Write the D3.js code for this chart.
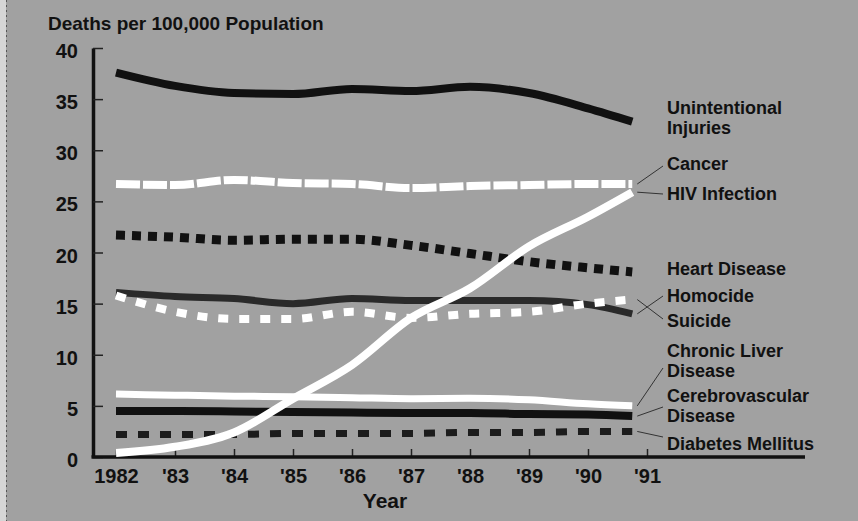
<!DOCTYPE html>
<html>
<head>
<meta charset="utf-8">
<script src="https://cdn.jsdelivr.net/npm/d3@7"></script>
<style>
  body { margin: 0; background: #a1a1a1; }
  svg { display: block; font-family: "Liberation Sans", Arial, sans-serif; font-weight: bold; }
</style>
</head>
<body>
<div id="chart"></div>
<script>
// Step 1: data (deaths per 100,000 population)
var years = [1982, 1983, 1984, 1985, 1986, 1987, 1988, 1989, 1990, 1990.75];
var tickYears = [1982, 1983, 1984, 1985, 1986, 1987, 1988, 1989, 1990, 1991];
var tickLabels = ["1982", "'83", "'84", "'85", "'86", "'87", "'88", "'89", "'90", "'91"];
var yTicks = [0, 5, 10, 15, 20, 25, 30, 35, 40];

var unintentional = [37.6, 36.3, 35.6, 35.5, 36.0, 35.8, 36.2, 35.6, 34.1, 32.8];
var cancer        = [26.7, 26.6, 27.1, 26.8, 26.7, 26.3, 26.5, 26.6, 26.7, 26.7];
var hiv           = [0.4, 1.0, 2.4, 5.7, 9.0, 13.6, 16.5, 20.6, 23.5, 25.9];
var heart         = [21.7, 21.5, 21.2, 21.3, 21.3, 20.7, 19.9, 19.1, 18.5, 18.1];
var homicide      = [16.1, 15.7, 15.5, 15.0, 15.5, 15.3, 15.3, 15.3, 14.9, 14.0];
var suicide       = [15.8, 14.2, 13.5, 13.5, 14.2, 13.6, 14.0, 14.2, 15.0, 15.4];
var liver         = [6.15, 6.05, 5.95, 5.9, 5.8, 5.7, 5.75, 5.6, 5.2, 5.0];
var cerebro       = [4.5, 4.5, 4.45, 4.4, 4.35, 4.3, 4.3, 4.2, 4.15, 4.0];
var diabetes      = [2.2, 2.2, 2.2, 2.3, 2.3, 2.3, 2.4, 2.4, 2.5, 2.5];

// Step 2: set up the svg area
var svgWidth = 858;
var svgHeight = 521;
var axisX = 93;     // the y axis sits left of the first year
var axisEnd = 805;  // the x axis runs on past '91

var svg = d3.select("#chart").append("svg")
  .attr("width", svgWidth)
  .attr("height", svgHeight);

svg.append("rect")
  .attr("width", svgWidth)
  .attr("height", svgHeight)
  .attr("fill", "#a1a1a1");

// light strip on the left edge of the scan
svg.append("rect")
  .attr("width", 6)
  .attr("height", svgHeight)
  .attr("fill", "#d6d6d6");
svg.append("line")
  .attr("x1", 6.5).attr("x2", 6.5)
  .attr("y1", 0).attr("y2", svgHeight)
  .attr("stroke", "#555")
  .attr("stroke-dasharray", "2,3");

// Step 3: scales
var xScale = d3.scaleLinear().domain([1982, 1991]).range([116, 647]);
var yScale = d3.scaleLinear().domain([0, 40]).range([457, 48]);

// Step 4: axes
var yAxis = d3.axisLeft(yScale)
  .tickValues(yTicks)
  .tickSizeInner(-10)
  .tickSizeOuter(0)
  .tickPadding(15);

var yG = svg.append("g")
  .attr("transform", `translate(${axisX}, 0)`)
  .call(yAxis)
  .attr("font-size", null)
  .attr("font-family", null);
yG.select(".domain").attr("stroke", "#111").attr("stroke-width", 3.5);
yG.selectAll(".tick line").attr("stroke", "#222").attr("stroke-width", 1.5);
yG.selectAll(".tick text")
  .attr("fill", "#111")
  .attr("font-size", "20px")
  .attr("dy", "0.48em");

var xAxis = d3.axisBottom(xScale)
  .tickValues(tickYears)
  .tickFormat(function(d, i) { return tickLabels[i]; })
  .tickSizeInner(-8)
  .tickSizeOuter(0)
  .tickPadding(12);

var xG = svg.append("g")
  .attr("transform", `translate(0, ${yScale(0)})`)
  .call(xAxis)
  .attr("font-size", null)
  .attr("font-family", null);
xG.select(".domain").remove();
xG.selectAll(".tick line").attr("stroke", "#222").attr("stroke-width", 1.5);
xG.selectAll(".tick text")
  .attr("fill", "#111")
  .attr("font-size", "20px");

svg.append("line")
  .attr("x1", axisX - 1.5)
  .attr("x2", axisEnd)
  .attr("y1", yScale(0))
  .attr("y2", yScale(0))
  .attr("stroke", "#111")
  .attr("stroke-width", 3.5);

// axis titles
svg.append("text")
  .attr("x", 48)
  .attr("y", 30)
  .attr("font-size", "19px")
  .attr("fill", "#111")
  .text("Deaths per 100,000 Population");

svg.append("text")
  .attr("x", 385)
  .attr("y", 508)
  .attr("text-anchor", "middle")
  .attr("font-size", "21px")
  .attr("fill", "#111")
  .text("Year");

// Step 5: the lines, in drawing order
var series = [
  { values: unintentional, color: "#111", width: 8, dash: null,
    label: ["Unintentional", "Injuries"], labelY: 114, leaderY: null },
  { values: cancer, color: "#fff", width: 8, dash: "24,3",
    label: ["Cancer"], labelY: 170, leaderY: 166 },
  { values: heart, color: "#111", width: 9, dash: "9,7",
    label: ["Heart Disease"], labelY: 275, leaderY: null },
  { values: homicide, color: "#2a2a2a", width: 7, dash: null,
    label: ["Homocide"], labelY: 302, leaderY: 296 },
  { values: suicide, color: "#fff", width: 8, dash: "10,11",
    label: ["Suicide"], labelY: 327, leaderY: 319 },
  { values: cerebro, color: "#111", width: 8, dash: null,
    label: ["Cerebrovascular", "Disease"], labelY: 402, leaderY: 407 },
  { values: liver, color: "#fff", width: 7, dash: null,
    label: ["Chronic Liver", "Disease"], labelY: 357, leaderY: 368 },
  { values: diabetes, color: "#1c1c1c", width: 7, dash: "11,11",
    label: ["Diabetes Mellitus"], labelY: 450, leaderY: 437 },
  { values: hiv, color: "#fff", width: 8, dash: null,
    label: ["HIV Infection"], labelY: 200, leaderY: 194 }
];

var line = d3.line()
  .x(function(d, i) { return xScale(years[i]); })
  .y(function(d) { return yScale(d); })
  .curve(d3.curveMonotoneX);

var labelX = 667;
var lastIdx = years.length - 1;

// leader lines first so the series sit on top of them
series.forEach(function(s) {
  if (s.leaderY === null) return;
  svg.append("line")
    .attr("x1", xScale(years[lastIdx]) + 5)
    .attr("y1", yScale(s.values[lastIdx]))
    .attr("x2", labelX - 4)
    .attr("y2", s.leaderY)
    .attr("stroke", "#333")
    .attr("stroke-width", 1);
});

series.forEach(function(s) {
  svg.append("path")
    .datum(s.values)
    .attr("d", line)
    .attr("fill", "none")
    .attr("stroke", s.color)
    .attr("stroke-width", s.width)
    .attr("stroke-dasharray", s.dash)
    .attr("stroke-linecap", "butt");
});

// Step 6: series labels on the right
series.forEach(function(s) {
  var t = svg.append("text")
    .attr("x", labelX)
    .attr("y", s.labelY)
    .attr("font-size", "18px")
    .attr("fill", "#111");
  s.label.forEach(function(part, i) {
    t.append("tspan")
      .attr("x", labelX)
      .attr("dy", i === 0 ? 0 : 20)
      .text(part);
  });
});
</script>
</body>
</html>
